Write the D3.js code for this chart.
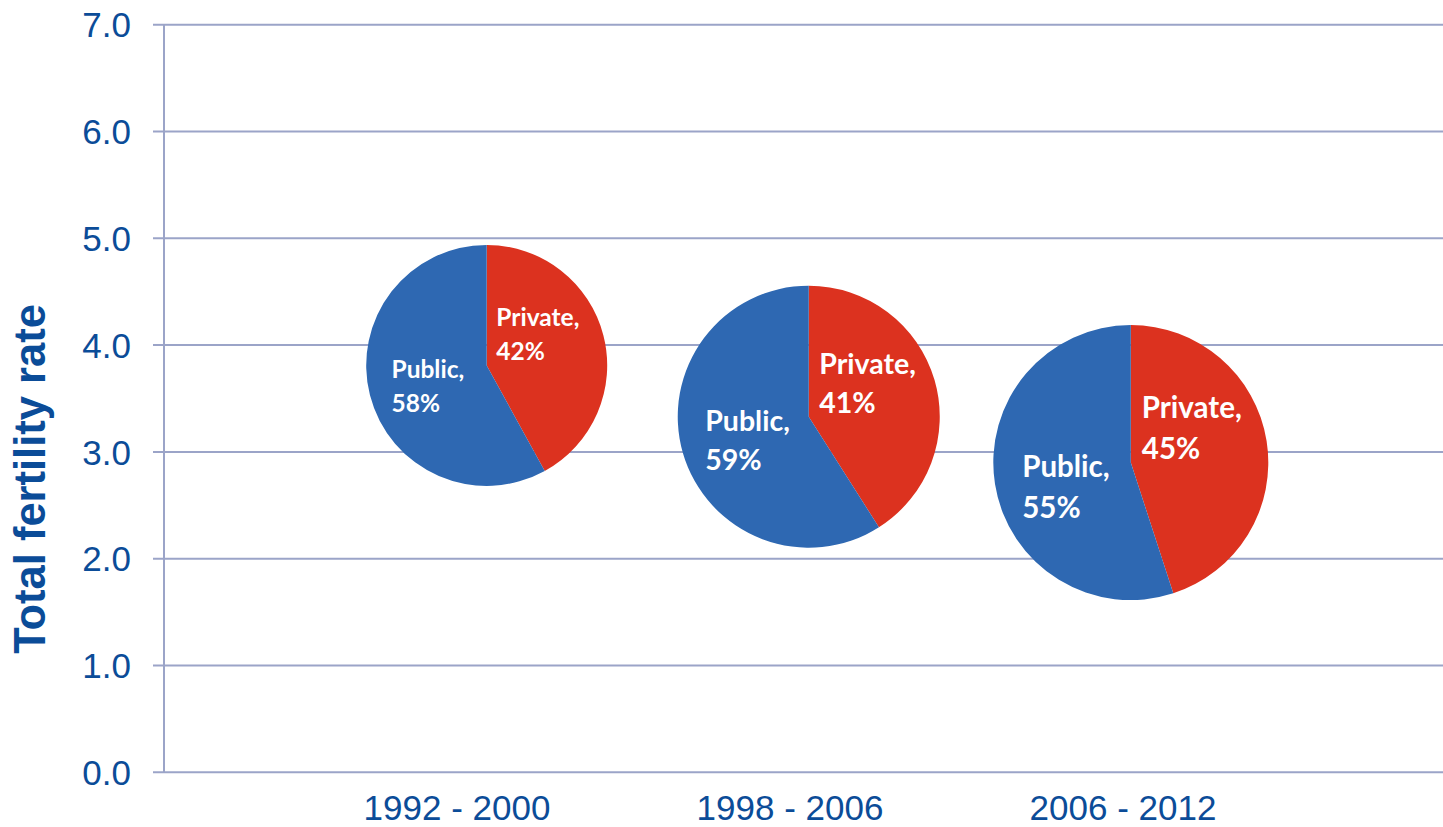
<!DOCTYPE html>
<html>
<head>
<meta charset="utf-8">
<script src="https://cdn.jsdelivr.net/npm/d3@7"></script>
<style>
  body { margin: 0; background: #fff; }
  svg { display: block; }
</style>
</head>
<body>
<div id="chart"></div>
<script>
// chart data
const periods = ['1992 - 2000', '1998 - 2006', '2006 - 2012']
const fertility = [3.81, 3.33, 2.90]
const privateShare = [42, 41, 45]
const publicShare = [58, 59, 55]
const yTicks = [0, 1, 2, 3, 4, 5, 6, 7]

// layout
const w = 1443
const h = 827
const axisX = 164
const gridColor = '#9ba4c8'
const textColor = '#0b4c98'
const pieRadius = [120.5, 131, 137.5]
const labelSize = [24.5, 28.5, 29.5]
const colors = {Private: '#dc321f', Public: '#2e68b2'}

const svg = d3.select('#chart')
  .append('svg')
    .attr('width', w)
    .attr('height', h)

// scales
const yScale = d3.scaleLinear()
  .domain([0, 7])
  .range([772.3, 24.7])

const xLabel = d3.scalePoint()
  .domain(periods)
  .range([457, 1123])

const xPie = d3.scalePoint()
  .domain(periods)
  .range([486.7, 1130.8])

// gridlines with the tick stub on the left
svg.append('g')
  .selectAll('line')
  .data(yTicks)
  .enter()
  .append('line')
    .attr('x1', axisX - 11)
    .attr('x2', w)
    .attr('y1', d => yScale(d))
    .attr('y2', d => yScale(d))
    .attr('stroke', gridColor)
    .attr('stroke-width', 2)

// y axis line
svg.append('line')
  .attr('x1', axisX)
  .attr('x2', axisX)
  .attr('y1', yScale(7))
  .attr('y2', yScale(0))
  .attr('stroke', gridColor)
  .attr('stroke-width', 2)

// y tick labels
svg.append('g')
  .selectAll('text')
  .data(yTicks)
  .enter()
  .append('text')
    .attr('x', 131)
    .attr('y', d => yScale(d))
    .attr('dy', '0.36em')
    .attr('text-anchor', 'end')
    .style('font-family', 'Liberation Sans, Arial, sans-serif')
    .style('font-size', '35px')
    .style('fill', textColor)
    .text(d => d.toFixed(1))

// x category labels
svg.append('g')
  .selectAll('text')
  .data(periods)
  .enter()
  .append('text')
    .attr('x', d => xLabel(d))
    .attr('y', 819.5)
    .attr('text-anchor', 'middle')
    .style('font-family', 'Liberation Sans, Arial, sans-serif')
    .style('font-size', '35px')
    .style('fill', textColor)
    .text(d => d)

// y axis title
svg.append('text')
  .attr('transform', 'translate(45,479) rotate(-90)')
  .attr('text-anchor', 'middle')
  .style('font-family', 'Liberation Sans, Arial, sans-serif')
  .style('font-size', '43.5px')
  .style('font-weight', 'bold')
  .style('fill', textColor)
  .text('Total fertility rate')

// pies, one per period, centred at its fertility rate
const pie = d3.pie()
  .value(d => d.value)
  .sort(null)

periods.forEach((p, i) => {
  const r = pieRadius[i]
  const slices = pie([
    {label: 'Private', value: privateShare[i]},
    {label: 'Public', value: publicShare[i]}
  ])
  const arc = d3.arc()
    .innerRadius(0)
    .outerRadius(r)

  const g = svg.append('g')
    .attr('transform', 'translate(' + xPie(p) + ',' + yScale(fertility[i]) + ')')

  g.selectAll('path')
    .data(slices)
    .enter()
    .append('path')
      .attr('d', arc)
      .attr('fill', d => colors[d.data.label])

  // labels: private in the right slice, public in the left
  const spots = {Private: [0.08, -0.325], Public: [-0.79, 0.108]}
  const label = g.selectAll('text')
    .data(slices)
    .enter()
    .append('text')
      .attr('x', d => spots[d.data.label][0] * r)
      .attr('y', d => spots[d.data.label][1] * r)
      .style('font-family', 'Lato, sans-serif')
      .style('font-weight', 'bold')
      .style('font-size', labelSize[i] + 'px')
      .style('fill', '#fff')

  label.append('tspan')
    .text(d => d.data.label + ',')
  label.append('tspan')
    .attr('x', d => spots[d.data.label][0] * r)
    .attr('dy', '1.38em')
    .text(d => d.data.value + '%')
})
</script>
</body>
</html>
